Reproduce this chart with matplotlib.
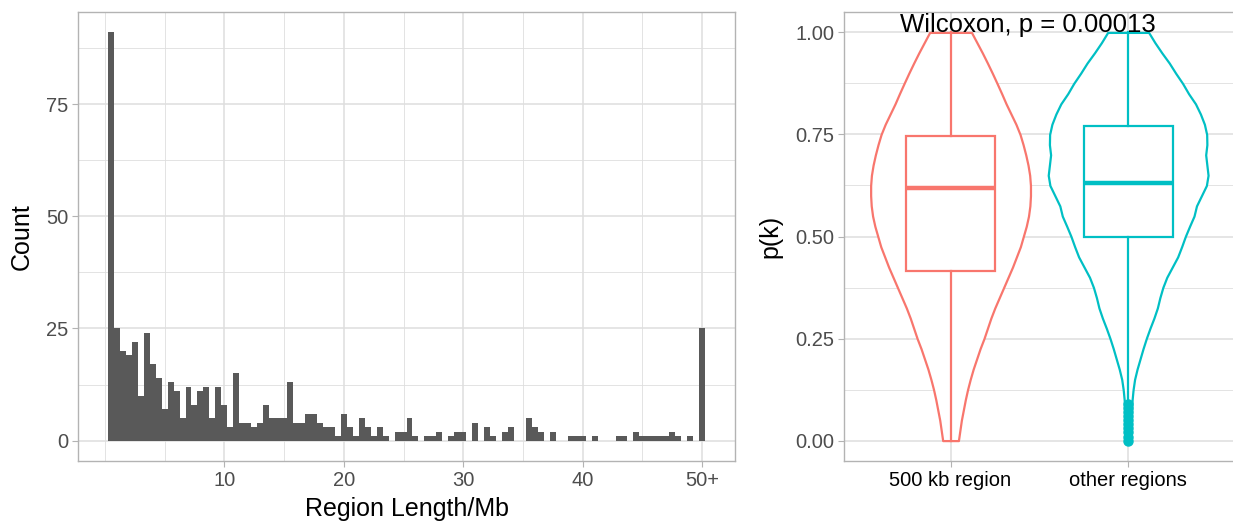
import numpy as np
import matplotlib.pyplot as plt

plt.rcParams['font.family'] = ['Liberation Sans', 'DejaVu Sans']

# histogram of region lengths (bins of 0.5 Mb, last bin = 50+)
bin_centers = np.arange(1, 101) * 0.5
counts = [91, 25, 20, 19, 22, 10, 24, 17, 14, 7,
          13, 11, 5, 12, 8, 11, 12, 5, 12, 8,
          3, 15, 4, 4, 3, 4, 8, 5, 5, 5,
          13, 4, 4, 6, 6, 4, 3, 3, 1, 6,
          3, 1, 5, 3, 1, 3, 1, 0, 2, 2,
          5, 1, 0, 1, 1, 2, 0, 1, 2, 2,
          0, 4, 0, 3, 1, 0, 2, 3, 0, 0,
          5, 3, 2, 0, 2, 0, 0, 1, 1, 1,
          0, 1, 0, 0, 0, 1, 1, 0, 2, 1,
          1, 1, 1, 1, 2, 1, 0, 1, 0, 25]
x_ticks = [10, 20, 30, 40, 50]
x_ticklabels = ['10', '20', '30', '40', '50+']

# violin / box data for p(k)
groups = ['500 kb region', 'other regions']
group_colors = ['#F8766D', '#00BFC4']
# density profile (relative half-width) read at p = 0, 0.025, ..., 1
dens_y = np.linspace(0, 1, 41)
dens_red = [8, 9.5, 11, 13, 15, 17.3, 20, 23, 26.5, 30,
            34, 37.5, 41, 45, 49.5, 54, 58.5, 63, 67, 71,
            74, 77, 79.3, 80.7, 81.3, 81.3, 80.5, 78.8, 76.5, 73.8,
            70.7, 66.5, 61.5, 56.5, 52, 47.3, 42.5, 37.5, 32.3, 26.8,
            21.3]
dens_cyan = [2, 2.5, 3, 3.5, 4, 5, 6.5, 9, 12, 15,
             18.3, 22, 26, 29.5, 32, 35, 39, 44.5, 50, 54,
             57.7, 62, 66.5, 69, 74, 79, 80.7, 79.5, 78.3, 79.5,
             79.3, 77, 73, 68, 61, 55, 48, 41.5, 34, 27,
             20.7]
medians = [0.62, 0.632]
q1s = [0.415, 0.50]
q3s = [0.747, 0.771]
whis_lo = [0.0, 0.095]
whis_hi = [1.0, 1.0]
outliers = [[], [0.0, 0.01, 0.02, 0.03, 0.04, 0.05, 0.06, 0.07, 0.08, 0.09]]
p_label = 'Wilcoxon, p = 0.00013'

W, H = 1233, 522
fig = plt.figure(figsize=(W / 100, H / 100), dpi=100)


def light_theme(ax):
    ax.set_axisbelow(True)
    for s in ax.spines.values():
        s.set_color('#B3B3B3')
        s.set_linewidth(1.0)
    ax.grid(which='major', color='#DEDEDE', linewidth=1.1)
    ax.grid(which='minor', color='#DEDEDE', linewidth=0.6)
    ax.tick_params(which='major', color='#B3B3B3', length=4, width=0.8,
                   labelsize=14.5, labelcolor='#4D4D4D', pad=3)
    ax.tick_params(which='minor', length=0)


ax1 = fig.add_axes([78 / W, 61 / H, 657 / W, 449 / H])
ax1.bar(bin_centers, counts, width=0.5, color='#595959', linewidth=0)
ax1.set_xlim(-2.25, 52.75)
ax1.set_ylim(-4.55, 95.55)
ax1.set_xticks(x_ticks)
ax1.set_xticklabels(x_ticklabels)
ax1.set_xticks([0, 5, 15, 25, 35, 45], minor=True)
ax1.set_yticks([0, 25, 50, 75])
ax1.set_yticks([12.5, 37.5, 62.5, 87.5], minor=True)
light_theme(ax1)
ax1.set_xlabel('Region Length/Mb', fontsize=18, va='center')
ax1.set_ylabel('Count', fontsize=18, va='center')
ax1.xaxis.set_label_coords(0.5, -0.107)
ax1.yaxis.set_label_coords(-0.085, 0.5)

ax2 = fig.add_axes([844 / W, 61 / H, 390.7 / W, 449 / H])
vstats = []
for dens in (dens_red, dens_cyan):
    vstats.append(dict(coords=dens_y, vals=np.array(dens, float),
                       mean=0.6, median=0.6, min=0.0, max=1.0))
vp = ax2.violin(vstats, positions=[1, 2], widths=0.9, showmeans=False,
                showextrema=False, showmedians=False)
for body, c in zip(vp['bodies'], group_colors):
    body.set_facecolor('white')
    body.set_edgecolor(c)
    body.set_linewidth(1.6)
    body.set_alpha(1)
    body.set_joinstyle('round')

bstats = []
for i in range(2):
    bstats.append(dict(med=medians[i], q1=q1s[i], q3=q3s[i],
                       whislo=whis_lo[i], whishi=whis_hi[i], fliers=outliers[i]))
bp = ax2.bxp(bstats, positions=[1, 2], widths=0.5, patch_artist=True,
             showcaps=False)
for i, c in enumerate(group_colors):
    bp['boxes'][i].set_facecolor('white')
    bp['boxes'][i].set_edgecolor(c)
    bp['boxes'][i].set_linewidth(1.6)
    bp['medians'][i].set_color(c)
    bp['medians'][i].set_linewidth(3.2)
    for w in bp['whiskers'][2 * i:2 * i + 2]:
        w.set_color(c)
        w.set_linewidth(1.6)
    bp['fliers'][i].set_marker('o')
    bp['fliers'][i].set_markerfacecolor(c)
    bp['fliers'][i].set_markeredgecolor(c)
    bp['fliers'][i].set_markersize(6.5)

ax2.set_xlim(0.4, 2.6)
ax2.set_ylim(-0.05, 1.05)
ax2.set_xticks([1, 2])
ax2.set_xticklabels(groups)
ax2.set_yticks([0, 0.25, 0.5, 0.75, 1.0])
ax2.set_yticklabels(['0.00', '0.25', '0.50', '0.75', '1.00'])
ax2.set_yticks([0.125, 0.375, 0.625, 0.875], minor=True)
light_theme(ax2)
ax2.tick_params(axis='x', labelcolor='black')
ax2.set_ylabel('p(k)', fontsize=18, va='center')
ax2.yaxis.set_label_coords(-0.189, 0.5)
ax2.text(0.715, 1.0, p_label, ha='left', va='baseline', fontsize=18.5,
         color='black')

fig.savefig('out.png', dpi=100)
